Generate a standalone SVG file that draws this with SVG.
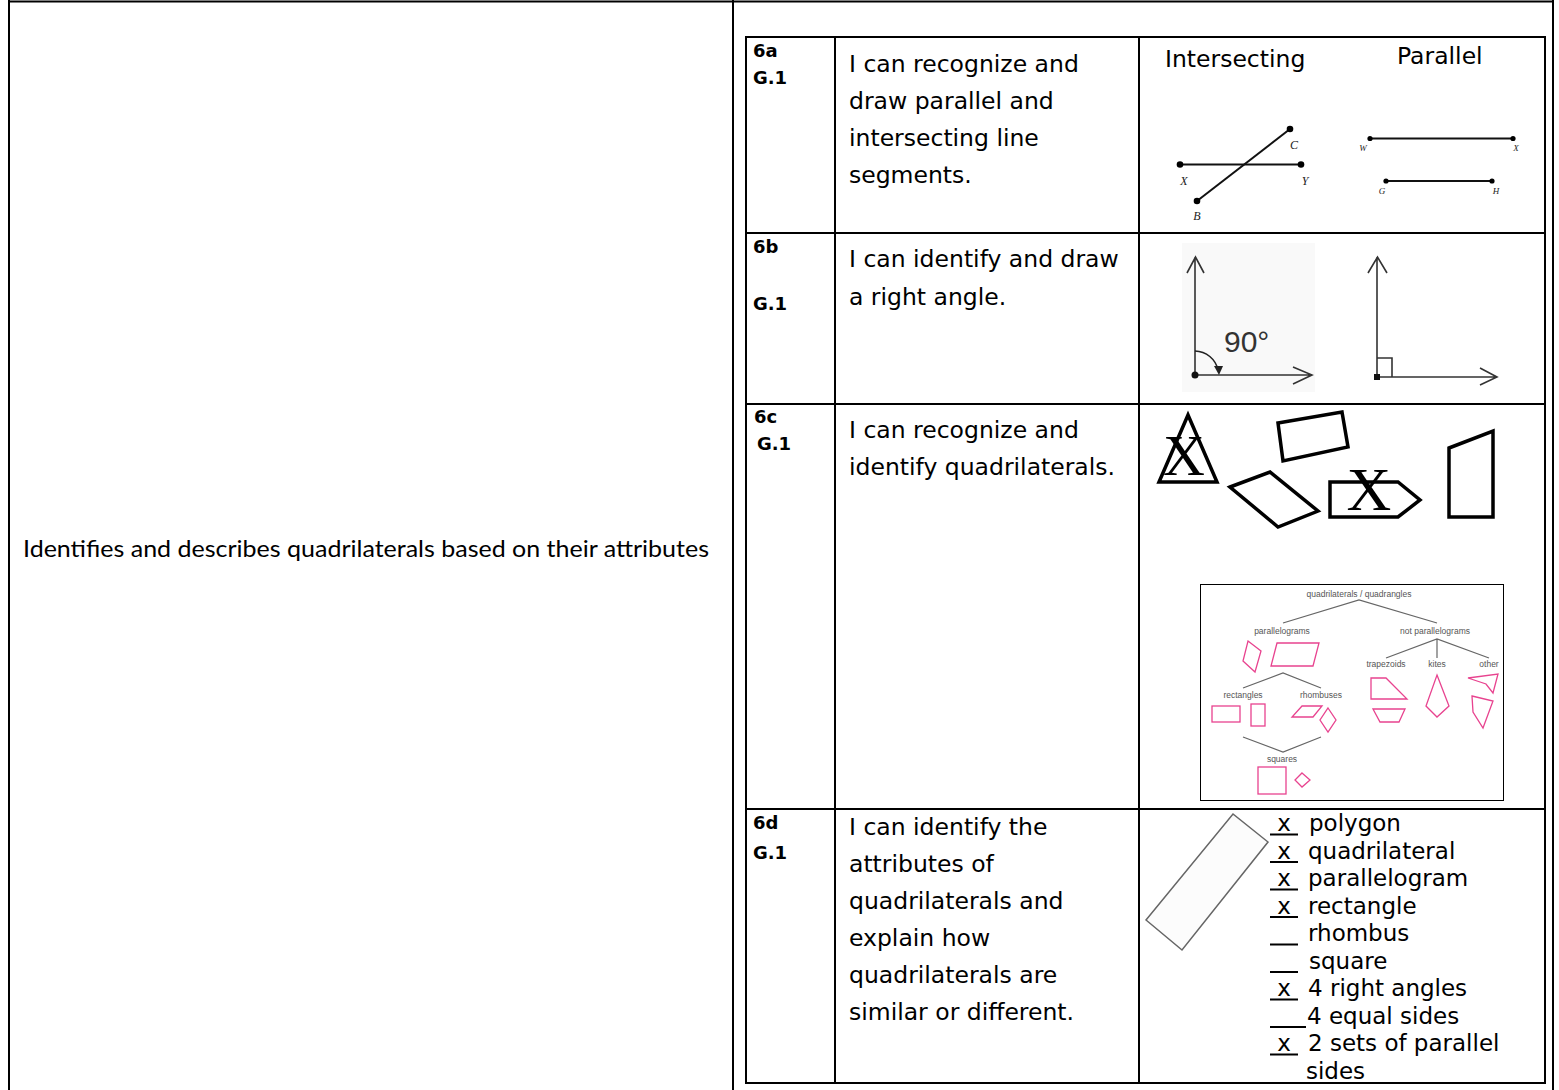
<svg xmlns="http://www.w3.org/2000/svg" width="1559" height="1090" viewBox="0 0 1559 1090">
<style>
.b{stroke:#000;stroke-width:2;fill:none}
.lbl{font-family:"DejaVu Sans",Verdana,sans-serif;font-weight:bold;font-size:18px;fill:#000}
.txt{font-family:"DejaVu Sans",Verdana,sans-serif;font-size:23.5px;fill:#000}
.chk{font-family:"DejaVu Sans",Verdana,sans-serif;font-size:23px;fill:#000}
.it{font-family:"Liberation Serif","Times New Roman",serif;font-style:italic;fill:#222}
.ln{stroke:#111;stroke-width:2;fill:none}
.ar{stroke:#333;stroke-width:1.6;fill:none}
.q{stroke:#000;stroke-width:3.5;fill:none;stroke-linejoin:miter}
.xg{font-family:"Liberation Serif","Times New Roman",serif;fill:#000}
.pk{stroke:#e8438f;stroke-width:1.3;fill:none}
.ct{font-family:"Liberation Sans",Arial,sans-serif;font-size:8.5px;fill:#555;text-anchor:middle}
.cl{stroke:#666;stroke-width:1.2;fill:none}
.ul{stroke:#000;stroke-width:2}
</style>
<rect width="1559" height="1090" fill="#fff"/>
<g id="outer-table">
<line class="b" x1="8" y1="1.5" x2="1554" y2="1.5"/>
<line class="b" x1="9" y1="0" x2="9" y2="1090"/>
<line class="b" x1="733" y1="0" x2="733" y2="1090"/>
<line class="b" x1="1553" y1="0" x2="1553" y2="1090"/>
</g>
<g id="standard">
<text x="23" y="557" font-family="Lato,'Liberation Sans',sans-serif" font-size="24" textLength="686" lengthAdjust="spacingAndGlyphs" fill="#000">Identifies and describes quadrilaterals based on their attributes</text>
</g>
<g id="inner-table">
<rect class="b" x="746" y="37" width="799" height="1046"/>
<line class="b" x1="835" y1="37" x2="835" y2="1083"/>
<line class="b" x1="1139" y1="37" x2="1139" y2="1083"/>
<line class="b" x1="746" y1="233" x2="1545" y2="233"/>
<line class="b" x1="746" y1="404" x2="1545" y2="404"/>
<line class="b" x1="746" y1="809" x2="1545" y2="809"/>
</g>
<g id="row-6a">
<text class="lbl" x="753" y="57">6a</text>
<text class="lbl" x="753" y="84">G.1</text>
<text class="txt" x="849" y="72">I can recognize and</text>
<text class="txt" x="849" y="109">draw parallel and</text>
<text class="txt" x="849" y="146">intersecting line</text>
<text class="txt" x="849" y="183">segments.</text>
<text class="txt" x="1165" y="67">Intersecting</text>
<text class="txt" x="1397" y="64">Parallel</text>
<line class="ln" x1="1180" y1="164.5" x2="1301" y2="164.5"/>
<line class="ln" x1="1197" y1="201" x2="1290" y2="129"/>
<circle cx="1180" cy="164.5" r="3.3"/><circle cx="1301" cy="164.5" r="3.3"/>
<circle cx="1290" cy="129" r="3.3"/><circle cx="1197" cy="201" r="3.3"/>
<text class="it" x="1184" y="185" font-size="12" text-anchor="middle">X</text>
<text class="it" x="1305" y="185" font-size="12" text-anchor="middle">Y</text>
<text class="it" x="1294" y="149" font-size="12" text-anchor="middle">C</text>
<text class="it" x="1197" y="220" font-size="12" text-anchor="middle">B</text>
<line class="ln" x1="1370" y1="138.5" x2="1513" y2="138.5"/>
<circle cx="1370" cy="138.5" r="2.6"/><circle cx="1513" cy="138.5" r="2.6"/>
<line class="ln" x1="1386" y1="181" x2="1492" y2="181"/>
<circle cx="1386" cy="181" r="2.6"/><circle cx="1492" cy="181" r="2.6"/>
<text class="it" x="1363" y="151" font-size="9" text-anchor="middle">W</text>
<text class="it" x="1516" y="151" font-size="9" text-anchor="middle">X</text>
<text class="it" x="1382" y="194" font-size="9" text-anchor="middle">G</text>
<text class="it" x="1496" y="194" font-size="9" text-anchor="middle">H</text>
</g>
<g id="row-6b">
<text class="lbl" x="753" y="253">6b</text>
<text class="lbl" x="753" y="310">G.1</text>
<text class="txt" x="849" y="267">I can identify and draw</text>
<text class="txt" x="849" y="305">a right angle.</text>
<rect x="1182" y="243" width="133" height="149" fill="#f9f9f9"/>
<path class="ar" d="M1195,375 V257 M1187,273 L1195.5,257 L1204,273 M1195,375 H1312 M1293,367 L1312,375 L1293,384"/>
<circle cx="1195" cy="375" r="3.5" fill="#111"/>
<path d="M1195,351 A24,24 0 0,1 1218,370" stroke="#222" stroke-width="1.6" fill="none"/>
<path d="M1214,366 L1223,366 L1219,375 Z" fill="#222"/>
<text x="1224" y="352" font-family="'Liberation Sans',Arial,sans-serif" font-size="30" fill="#333">90°</text>
<path class="ar" d="M1377,377 V257 M1368,273 L1377.5,257 L1387,273 M1377,377 H1497 M1480,368 L1497,377 L1480,385 M1377,358 H1392 V377"/>
<rect x="1374" y="374" width="6" height="6" fill="#111"/>
</g>
<g id="row-6c">
<text class="lbl" x="754" y="423">6c</text>
<text class="lbl" x="757" y="450">G.1</text>
<text class="txt" x="849" y="438">I can recognize and</text>
<text class="txt" x="849" y="475">identify quadrilaterals.</text>
<polygon class="q" points="1188,415 1159,482 1217,482"/>
<text class="xg" x="1184" y="475" font-size="58" text-anchor="middle">X</text>
<polygon class="q" points="1278,423 1342,412 1348,447 1283,461"/>
<polygon class="q" points="1230,487 1270,472 1318,511 1278,527"/>
<polygon class="q" points="1330,482 1398,482 1420,500 1398,517 1330,517"/>
<text class="xg" x="1369" y="510" font-size="62" text-anchor="middle">X</text>
<polygon class="q" points="1449,448 1493,431 1493,517 1449,517"/>
<g id="quad-chart">
<rect x="1200.5" y="584.5" width="303" height="216" fill="#fff" stroke="#000" stroke-width="1"/>
<text class="ct" x="1359" y="597">quadrilaterals / quadrangles</text>
<text class="ct" x="1282" y="634">parallelograms</text>
<text class="ct" x="1435" y="634">not parallelograms</text>
<text class="ct" x="1243" y="698">rectangles</text>
<text class="ct" x="1321" y="698">rhombuses</text>
<text class="ct" x="1282" y="762">squares</text>
<text class="ct" x="1386" y="667">trapezoids</text>
<text class="ct" x="1437" y="667">kites</text>
<text class="ct" x="1489" y="667">other</text>
<g id="chart-connectors">
<path class="cl" d="M1283,623 L1359,600 L1437,623"/>
<path class="cl" d="M1243,688 L1283,673 L1321,688"/>
<path class="cl" d="M1243,737 L1283,752 L1321,737"/>
<path class="cl" d="M1386,658 L1437,639 L1489,658 M1437,639 V658"/>
</g>
<polygon class="pk" points="1248,641 1261,651 1255,672 1243,661"/>
<polygon class="pk" points="1277,643 1319,643 1313,666 1271,666"/>
<rect class="pk" x="1212" y="706" width="28" height="16"/>
<rect class="pk" x="1251" y="704" width="14" height="22"/>
<polygon class="pk" points="1302,706 1322,706 1313,717 1292,717"/>
<polygon class="pk" points="1328,708 1336,720 1328,732 1320,720"/>
<rect class="pk" x="1258" y="767" width="28" height="27"/>
<polygon class="pk" points="1302,773 1310,780 1302,787 1295,780"/>
<polygon class="pk" points="1371,678 1386,678 1407,699 1371,699"/>
<polygon class="pk" points="1373,709 1405,709 1399,722 1380,722"/>
<polygon class="pk" points="1437,675 1449,706 1437,717 1426,706"/>
<polygon class="pk" points="1468,678 1498,674 1493,693 1486,684"/>
<polygon class="pk" points="1472,696 1493,701 1483,728 1473,712"/>
</g>
</g>
<g id="row-6d">
<text class="lbl" x="753" y="829">6d</text>
<text class="lbl" x="753" y="859">G.1</text>
<text class="txt" x="849" y="835">I can identify the</text>
<text class="txt" x="849" y="872">attributes of</text>
<text class="txt" x="849" y="909">quadrilaterals and</text>
<text class="txt" x="849" y="946">explain how</text>
<text class="txt" x="849" y="983">quadrilaterals are</text>
<text class="txt" x="849" y="1020">similar or different.</text>
<polygon points="1146,920 1233,814 1268,842 1182,950" fill="#fcfcfc" stroke="#666" stroke-width="1.5"/>
<g id="checklist">
<path class="ul" d="M1270,834.5 H1298 M1270,862 H1298 M1270,889.5 H1298 M1270,917 H1298 M1270,944.5 H1298 M1270,972 H1298 M1270,999.5 H1298 M1270,1027 H1306 M1270,1054.5 H1298"/>
<text class="chk" x="1284" y="831" text-anchor="middle">x</text>
<text class="chk" x="1284" y="858.5" text-anchor="middle">x</text>
<text class="chk" x="1284" y="886" text-anchor="middle">x</text>
<text class="chk" x="1284" y="913.5" text-anchor="middle">x</text>
<text class="chk" x="1284" y="996" text-anchor="middle">x</text>
<text class="chk" x="1284" y="1051" text-anchor="middle">x</text>
<text class="chk" x="1309" y="831">polygon</text>
<text class="chk" x="1308" y="858.5">quadrilateral</text>
<text class="chk" x="1308" y="886">parallelogram</text>
<text class="chk" x="1308" y="913.5">rectangle</text>
<text class="chk" x="1308" y="941">rhombus</text>
<text class="chk" x="1309" y="968.5">square</text>
<text class="chk" x="1308" y="996">4 right angles</text>
<text class="chk" x="1307" y="1023.5">4 equal sides</text>
<text class="chk" x="1308" y="1051">2 sets of parallel</text>
<text class="chk" x="1306" y="1078.5">sides</text>
</g>
</g>
</svg>
